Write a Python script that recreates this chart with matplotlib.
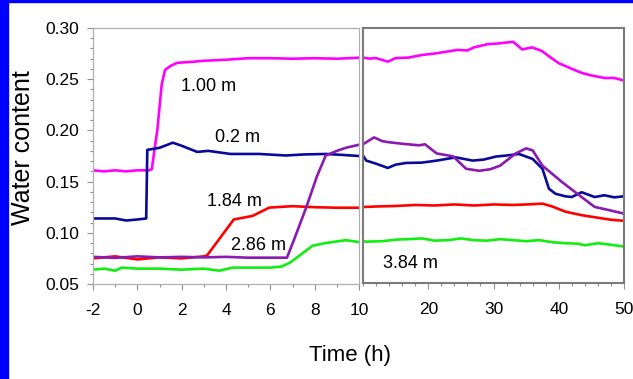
"""
Water content at five depths vs time, split time axis (-2..10 h and 10..50 h)
"""

import matplotlib
matplotlib.use('Agg')
import matplotlib.pyplot as plt
from matplotlib.patches import Rectangle
from matplotlib.ticker import MultipleLocator

plt.rcParams['font.family'] = ['Liberation Sans', 'DejaVu Sans']
plt.rcParams['axes.unicode_minus'] = False

# ----- data -----
t_100 = [-2, -1.5, -1, -0.5, 0, 0.5, 0.65, 0.9, 1.1, 1.25, 1.5, 1.8, 2.5, 3, 4, 5, 6, 7, 8, 9, 10,
         11, 12, 13.8, 15, 17, 19, 21, 23, 24.5, 26, 27, 29, 31, 33, 34.4, 35.9, 37.4, 39, 40,
         42, 43.5, 45, 47, 48.5, 50]
w_100 = [0.161, 0.160, 0.161, 0.160, 0.161, 0.161, 0.162, 0.200, 0.245, 0.259, 0.263, 0.266, 0.267,
         0.268, 0.269, 0.2705, 0.2705, 0.270, 0.2705, 0.270, 0.271,
         0.270, 0.2705, 0.267, 0.2705, 0.271, 0.2735, 0.275, 0.277, 0.2785, 0.278, 0.281, 0.284,
         0.285, 0.2865, 0.279, 0.281, 0.2775, 0.270, 0.2655, 0.260, 0.256, 0.2535, 0.251, 0.251, 0.2485]

t_020 = [-2, -1, -0.5, 0, 0.4, 0.45, 1, 1.6, 2, 2.7, 3.2, 4.2, 5.5, 6.7, 7.5, 8.5, 9.3, 10,
         10.5, 12, 13.8, 15, 16.6, 19, 21.3, 24.2, 26.8, 28.5, 30.4, 32, 33.9, 36, 37.5, 38.5,
         39.5, 41, 42, 43.5, 45.5, 47, 48.5, 50]
w_020 = [0.114, 0.114, 0.112, 0.113, 0.114, 0.181, 0.183, 0.188, 0.185, 0.179, 0.180, 0.177, 0.177,
         0.1755, 0.1765, 0.177, 0.176, 0.175,
         0.170, 0.167, 0.1628, 0.166, 0.1677, 0.168, 0.170, 0.1732, 0.170, 0.171, 0.174, 0.175,
         0.1765, 0.1716, 0.162, 0.1424, 0.1375, 0.135, 0.1343, 0.139, 0.1343, 0.136, 0.134, 0.135]

t_184 = [-2, -1, 0, 1, 2, 3, 3.15, 4.35, 5.2, 5.95, 7, 8, 9, 10, 12, 15, 18, 21, 24, 27, 30, 33,
         35, 37.5, 39, 41, 43.5, 46, 48, 50]
w_184 = [0.075, 0.077, 0.074, 0.076, 0.075, 0.077, 0.078, 0.113, 0.1165, 0.1246, 0.126, 0.125,
         0.1245, 0.1245, 0.125, 0.1255, 0.1265, 0.126, 0.127, 0.126, 0.127, 0.1265, 0.127, 0.1278,
         0.125, 0.120, 0.1165, 0.114, 0.112, 0.111]

t_286 = [-2, -1, 0, 1, 2, 3, 4, 5, 6, 6.75, 7.1, 7.64, 8.1, 8.5, 9, 9.4, 10, 11, 11.7, 13, 14,
         16, 18.6, 19.5, 21.3, 23.8, 25.8, 27.8, 29.5, 31, 33.4, 35, 36, 37.5, 40.5, 43.5, 45.5,
         48, 50]
w_286 = [0.0765, 0.0755, 0.077, 0.076, 0.0765, 0.076, 0.0765, 0.0757, 0.0757, 0.0757, 0.095,
         0.126, 0.155, 0.1755, 0.180, 0.183, 0.186, 0.190, 0.1927, 0.189, 0.188, 0.1865, 0.185,
         0.186, 0.177, 0.1742, 0.162, 0.160, 0.1615, 0.165, 0.177, 0.182, 0.180, 0.165, 0.149,
         0.1343, 0.1246, 0.121, 0.118]

t_384 = [-2, -1.5, -1, -0.7, 0, 1, 2, 3, 3.7, 4.3, 5, 6, 6.5, 6.9, 7.9, 8.5, 9.4, 10, 10.5, 13,
         15, 17, 19, 21, 23, 25, 27, 29, 31, 33, 35, 37, 39, 41, 43, 44, 46, 48, 50]
w_384 = [0.064, 0.065, 0.063, 0.066, 0.065, 0.065, 0.064, 0.065, 0.063, 0.066, 0.066, 0.066,
         0.067, 0.071, 0.0873, 0.090, 0.0928, 0.091, 0.0905, 0.091, 0.0925, 0.093, 0.0937, 0.0915,
         0.092, 0.0937, 0.092, 0.0915, 0.093, 0.092, 0.091, 0.092, 0.090, 0.089, 0.0885, 0.087,
         0.089, 0.0875, 0.0857]

series = [(t_100, w_100, '#ff00ff'),
          (t_020, w_020, '#0a0a9a'),
          (t_184, w_184, '#ff0000'),
          (t_286, w_286, '#8a1ab0'),
          (t_384, w_384, '#11ee11')]

labels = ['1.00 m', '0.2 m', '1.84 m', '2.86 m', '3.84 m']
label_pos = [(3.2, 0.2426, 0), (4.5, 0.193, 0), (4.4, 0.131, 0), (5.45, 0.0873, 0), (17.3, 0.0695, 1)]

fig = plt.figure(figsize=(6.33, 3.79), dpi=100)
fig.patch.set_facecolor('white')
# blue slide frame
fig.patches.append(Rectangle((0, 0), 8 / 633, 1, transform=fig.transFigure,
                             color='#0000ff', zorder=0))
fig.patches.append(Rectangle((0, 1 - 2 / 379), 1, 2 / 379, transform=fig.transFigure,
                             color='#0000ff', zorder=0))

ax1 = fig.add_axes([93 / 633, 95 / 379, 266 / 633, 256 / 379])
ax2 = fig.add_axes([363 / 633, 96 / 379, 261 / 633, 255 / 379])

for ax in (ax1, ax2):
    for t, w, c in series:
        ax.plot(t, w, color=c, lw=1.9, solid_joinstyle='round')
    ax.set_ylim(0.05, 0.30)

ax1.set_xlim(-2, 10)
ax2.set_xlim(10, 50)

# left panel style
for s in ax1.spines.values():
    s.set_color('#b0b0b0')
    s.set_linewidth(0.9)
ax1.yaxis.set_major_locator(MultipleLocator(0.05))
ax1.yaxis.set_minor_locator(MultipleLocator(0.01))
ax1.xaxis.set_major_locator(MultipleLocator(2))
ax1.xaxis.set_minor_locator(MultipleLocator(1))
ax1.set_yticklabels([f'{v:.2f}' for v in ax1.get_yticks()])
ax1.tick_params(axis='both', which='both', direction='out', color='#909090', width=0.8)
ax1.tick_params(axis='both', which='major', length=4, labelsize=12.5, pad=10)
ax1.tick_params(axis='both', which='minor', length=2.5)
ax1.tick_params(axis='y', pad=6, labelsize=12.5)

# right panel style
for s in ax2.spines.values():
    s.set_color('#7a7a7a')
    s.set_linewidth(1.5)
ax2.set_yticks([])
ax2.xaxis.set_major_locator(MultipleLocator(10))
ax2.xaxis.set_minor_locator(MultipleLocator(2))
ax2.set_xticks([20, 30, 40, 50])
ax2.tick_params(axis='x', which='both', direction='out', color='#909090', width=0.8)
ax2.tick_params(axis='x', which='major', length=4, labelsize=12.5, pad=10)
ax2.tick_params(axis='x', which='minor', length=2.5)

for txt, (x, y, k) in zip(labels, label_pos):
    ax = ax1 if k == 0 else ax2
    ax.text(x, y, txt, fontsize=13, ha='center', va='center', color='black')

fig.text(23 / 633, 1 - 148 / 379, 'Water content', rotation=90, fontsize=18,
         ha='center', va='center')
fig.text(350 / 633, 1 - 355 / 379, 'Time (h)', fontsize=16, ha='center', va='center')

plt.savefig('out.png', dpi=100)
plt.close()
